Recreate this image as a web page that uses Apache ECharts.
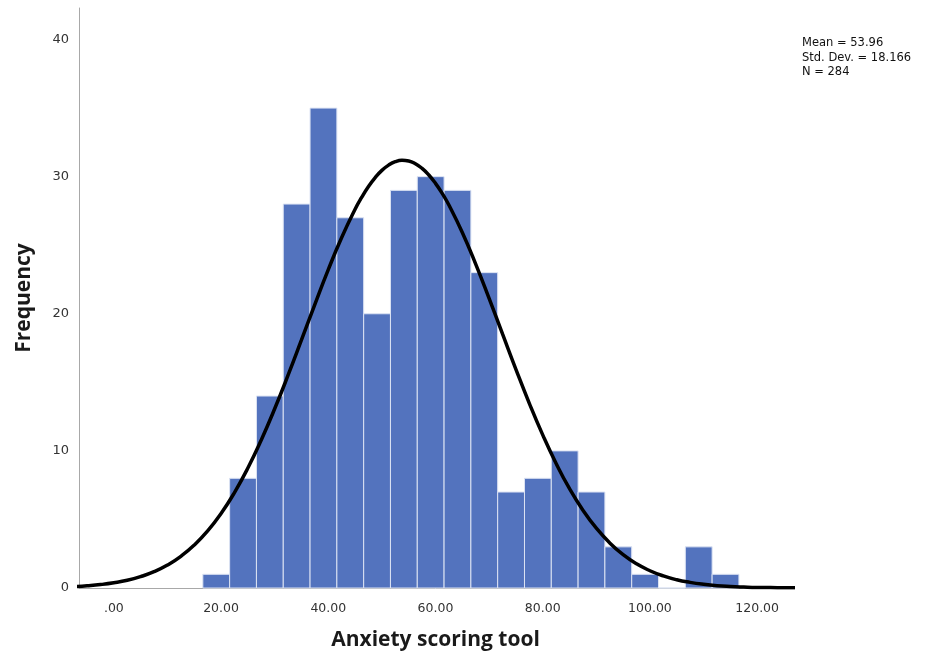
<!DOCTYPE html>
<html>
<head>
<meta charset="utf-8">
<script src="https://cdn.jsdelivr.net/npm/echarts@6/dist/echarts.min.js"></script>
<style>
html, body { margin: 0; padding: 0; background: #fff; }
#main { width: 945px; height: 661px; }
</style>
</head>
<body>
<div id="main"></div>
<script>
// 直方图分组 (组宽 5)
var binStart = [16.6, 21.6, 26.6, 31.6, 36.6, 41.6, 46.6, 51.6, 56.6, 61.6,
	66.6, 71.6, 76.6, 81.6, 86.6, 91.6, 96.6, 101.6, 106.6, 111.6];
var binCount = [1, 8, 14, 28, 35, 27, 20, 29, 30, 29,
	23, 7, 8, 10, 7, 3, 1, 0, 3, 1];
var binWidth = 5;

// 正态曲线
var curveX = [-7.5, -5, -2.5, 0, 2.5, 5, 7.5, 10, 12.5, 15, 17.5, 20, 22.5, 25, 27.5, 30,
	32.5, 35, 37.5, 40, 42.5, 45, 46.25, 47.5, 48.75, 50, 51.25, 52.5, 53.75, 55, 56.25,
	57.5, 58.75, 60, 61.25, 62.5, 65,
	67.5, 70, 72.5, 75, 77.5, 80, 82.5, 85, 87.5, 90, 92.5, 95, 97.5, 100,
	102.5, 105, 107.5, 110, 112.5, 115, 117.5, 120, 122.5, 125, 127.5];
var curveY = [0.09, 0.16, 0.25, 0.38, 0.56, 0.83, 1.19, 1.67, 2.31, 3.13, 4.16, 5.43, 6.96, 8.75, 10.8, 13.07,
	15.52, 18.09, 20.69, 23.22, 25.56, 27.62, 28.5, 29.28, 29.93, 30.46, 30.84, 31.09, 31.19, 31.14, 30.94,
	30.6, 30.12, 29.51, 28.78, 27.93, 25.93,
	23.62, 21.12, 18.53, 15.95, 13.47, 11.17, 9.08, 7.24, 5.67, 4.36, 3.29, 2.43, 1.76, 1.26,
	0.88, 0.6, 0.41, 0.27, 0.17, 0.11, 0.07, 0.04, 0.03, 0.015, 0.01];

// 刻度
var xTicks = [0, 20, 40, 60, 80, 100, 120];
var xTickLabels = ['.00', '20.00', '40.00', '60.00', '80.00', '100.00', '120.00'];
var yTicks = [0, 10, 20, 30, 40];

var statsText = ['Mean = 53.96', 'Std. Dev. = 18.166', 'N = 284'];

var histData = [];
for (var i = 0; i < binStart.length; i++) {
	histData.push([binStart[i], binStart[i] + binWidth, binCount[i]]);
}
var curveData = [];
for (var j = 0; j < curveX.length; j++) {
	curveData.push([curveX[j], curveY[j]]);
}

var chart = echarts.init(document.getElementById('main'));
var option = {
	animation: false,
	backgroundColor: '#fff',
	grid: {
		left: 79,
		right: 153,
		top: 8,
		bottom: 73
	},
	xAxis: {
		type: 'value',
		min: -6.5,
		max: 126.5,
		name: 'Anxiety scoring tool',
		nameLocation: 'middle',
		nameGap: 42,
		nameTextStyle: {
			color: '#1a1a1a',
			fontSize: 21,
			fontWeight: 'bold',
			fontFamily: 'Open Sans'
		},
		axisLine: { show: true, onZero: false, lineStyle: { color: '#a8a8a8', width: 1 } },
		axisTick: { show: false },
		splitLine: { show: false },
		axisLabel: {
			customValues: xTicks,
			margin: 14,
			color: '#333',
			fontSize: 12.5,
			fontFamily: 'DejaVu Sans',
			formatter: function(v) {
				var k = xTicks.indexOf(v);
				return k >= 0 ? xTickLabels[k] : '';
			}
		}
	},
	yAxis: {
		type: 'value',
		min: 0,
		max: 42.3,
		name: 'Frequency',
		nameLocation: 'middle',
		nameGap: 44,
		nameTextStyle: {
			color: '#1a1a1a',
			fontSize: 21,
			fontWeight: 'bold',
			fontFamily: 'Open Sans'
		},
		axisLine: { show: true, onZero: false, lineStyle: { color: '#a8a8a8', width: 1 } },
		axisTick: { show: false },
		splitLine: { show: false },
		axisLabel: {
			customValues: yTicks,
			margin: 10,
			color: '#333',
			fontSize: 13,
			fontFamily: 'DejaVu Sans'
		}
	},
	graphic: [{
		type: 'text',
		left: 802,
		top: 36,
		style: {
			text: statsText.join('\n'),
			fill: '#111',
			font: '11.5px "DejaVu Sans"',
			lineHeight: 14.5
		}
	}],
	series: [{
			type: 'custom',
			name: 'hist',
			data: histData,
			encode: { x: [0, 1], y: 2 },
			renderItem: function(params, api) {
				var p0 = api.coord([api.value(0), api.value(2)]);
				var p1 = api.coord([api.value(1), 0]);
				return {
					type: 'rect',
					shape: { x: p0[0], y: p0[1], width: p1[0] - p0[0], height: p1[1] - p0[1] },
					style: { fill: '#5373be', stroke: '#dce3f3', lineWidth: 1 }
				};
			},
			z: 2
		},
		{
			type: 'line',
			name: 'normal',
			data: curveData,
			smooth: true,
			symbol: 'none',
			lineStyle: { color: '#000', width: 3.5 },
			z: 3
		}
	]
};
chart.setOption(option);
</script>
</body>
</html>
